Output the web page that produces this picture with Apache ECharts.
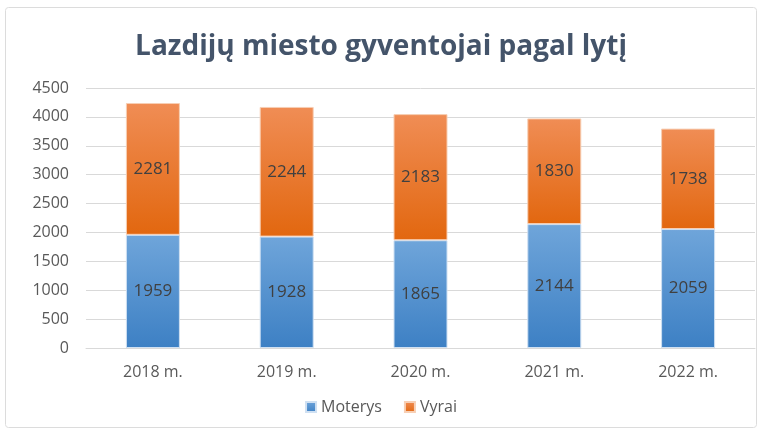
<!DOCTYPE html>
<html><head><meta charset="utf-8">
<script src="https://cdn.jsdelivr.net/npm/echarts@6/dist/echarts.min.js"></script>
<style>html,body{margin:0;padding:0;background:#fff}#c{width:762px;height:435px}</style>
</head><body><div id="c"></div>
<script>
const categories = ['2018 m.', '2019 m.', '2020 m.', '2021 m.', '2022 m.'];
const moterys = [1959, 1928, 1865, 2144, 2059];
const vyrai = [2281, 2244, 2183, 1830, 1738];
const seriesNames = ['Moterys', 'Vyrai'];
const titleText = 'Lazdijų miesto gyventojai pagal lytį';

const font = 'Open Sans, Lato, sans-serif';
const chart = echarts.init(document.getElementById('c'));
function grad(top, bottom) {
  return new echarts.graphic.LinearGradient(0, 0, 0, 1, [{offset: 0, color: top}, {offset: 1, color: bottom}]);
}
chart.setOption({
  animation: false,
  graphic: [{type: 'rect', shape: {x: 5.5, y: 7.5, width: 751, height: 420, r: 3}, style: {fill: 'none', stroke: '#dcdcdc', lineWidth: 1}}],
  title: {text: titleText, left: 'center', top: 28, textStyle: {fontFamily: font, fontSize: 28, fontWeight: 'bold', color: '#44546a'}},
  legend: {bottom: 15, left: 'center', itemWidth: 10, itemHeight: 10, itemGap: 22, icon: 'rect',
    textStyle: {fontFamily: font, fontSize: 16, color: '#595959'}, data: seriesNames},
  grid: {left: 86, right: 7, top: 88, bottom: 87, containLabel: false},
  xAxis: {type: 'category', data: categories, axisLine: {lineStyle: {color: '#d9d9d9'}}, axisTick: {show: false},
    axisLabel: {fontFamily: font, fontSize: 16, color: '#595959', margin: 16}},
  yAxis: {type: 'value', min: 0, max: 4500, interval: 500, axisLine: {show: false}, axisTick: {show: false},
    splitLine: {lineStyle: {color: '#d9d9d9'}},
    axisLabel: {fontFamily: font, fontSize: 16, color: '#595959', margin: 17, formatter: v => String(v)}},
  series: [
    {name: seriesNames[0], type: 'bar', stack: 's', data: moterys, barWidth: 54,
      itemStyle: {color: grad('#6fa5da', '#3d80c4'), borderColor: '#cfe0f2', borderWidth: 1},
      label: {show: true, position: 'inside', fontFamily: font, fontSize: 17, color: '#404040'}},
    {name: seriesNames[1], type: 'bar', stack: 's', data: vyrai, barWidth: 54,
      itemStyle: {color: grad('#f08d55', '#e2670f'), borderColor: '#f7cfb5', borderWidth: 1},
      label: {show: true, position: 'inside', fontFamily: font, fontSize: 17, color: '#404040'}}
  ]
});
</script></body></html>
